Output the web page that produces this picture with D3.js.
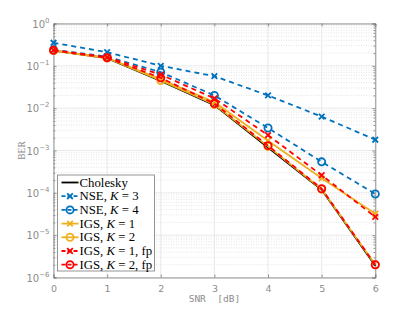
<!DOCTYPE html>
<html>
<head>
<meta charset="utf-8">
<script src="https://cdn.jsdelivr.net/npm/d3@7"></script>
<style>
  body { margin: 0; background: #fff; }
</style>
</head>
<body>
<div id="container"></div>
<script>
// data
const snr = [0, 1, 2, 3, 4, 5, 6];
const cholesky = [0.23, 0.152, 0.044, 0.0118, 0.00118, 0.000118, 0.0000019];
const nseK3 = [0.35, 0.21, 0.10, 0.057, 0.020, 0.0063, 0.0018];
const nseK4 = [0.24, 0.165, 0.071, 0.020, 0.0034, 0.00054, 0.000094];
const igsK1 = [0.23, 0.155, 0.048, 0.014, 0.0017, 0.00022, 0.000032];
const igsK2 = [0.23, 0.153, 0.045, 0.0122, 0.00125, 0.000122, 0.000002];
const igsK1fp = [0.235, 0.16, 0.062, 0.017, 0.0023, 0.00026, 0.000027];
const igsK2fp = [0.232, 0.155, 0.052, 0.0128, 0.0013, 0.000125, 0.000002];

const xTicks = [0, 1, 2, 3, 4, 5, 6];
const yExps = [0, -1, -2, -3, -4, -5, -6];

const series = [
    {name: "Cholesky", vals: cholesky, color: "#000000", dash: null, marker: null},
    {name: "NSE, ", k: "3", vals: nseK3, color: "#0072BD", dash: "5,4", marker: "x"},
    {name: "NSE, ", k: "4", vals: nseK4, color: "#0072BD", dash: "5,4", marker: "o"},
    {name: "IGS, ", k: "1", vals: igsK1, color: "#EDB120", dash: null, marker: "x"},
    {name: "IGS, ", k: "2", vals: igsK2, color: "#EDB120", dash: null, marker: "o"},
    {name: "IGS, ", k: "1", fp: true, vals: igsK1fp, color: "#FF0000", dash: "5,4", marker: "x"},
    {name: "IGS, ", k: "2", fp: true, vals: igsK2fp, color: "#FF0000", dash: "5,4", marker: "o"}
];

const width = 415, height = 312;
const mLeft = 53.5, mRight = 375.3, mTop = 23.5, mBottom = 277.5;

const svg = d3.select("#container").append("svg")
    .attr("width", width)
    .attr("height", height);

const x = d3.scaleLinear().domain([0, 6]).range([mLeft, mRight]);
const y = d3.scaleLog().domain([1e-6, 1]).range([mBottom, mTop]);

// grid
let minors = [];
for (let e = -6; e < 0; e++) {
    for (let m = 2; m <= 9; m++) minors.push(m * Math.pow(10, e));
}
svg.append("g").selectAll("line").data(minors).join("line")
    .attr("x1", mLeft).attr("x2", mRight)
    .attr("y1", d => y(d)).attr("y2", d => y(d))
    .attr("stroke", "#d4d4d4").attr("stroke-width", 0.6)
    .attr("stroke-dasharray", "1,1.5");

svg.append("g").selectAll("line").data(yExps).join("line")
    .attr("x1", mLeft).attr("x2", mRight)
    .attr("y1", d => y(Math.pow(10, d))).attr("y2", d => y(Math.pow(10, d)))
    .attr("stroke", "#e3e3e3").attr("stroke-width", 0.8);

svg.append("g").selectAll("line").data(xTicks).join("line")
    .attr("x1", d => x(d)).attr("x2", d => x(d))
    .attr("y1", mTop).attr("y2", mBottom)
    .attr("stroke", "#e3e3e3").attr("stroke-width", 0.8);

// axes with inward ticks
const axisColor = "#7a7a7a";
const axB = svg.append("g").attr("transform", `translate(0,${mBottom})`)
    .call(d3.axisBottom(x).tickValues(xTicks).tickSize(-3).tickPadding(8).tickFormat(d3.format("d")));
svg.append("g").attr("transform", `translate(0,${mTop})`)
    .call(d3.axisTop(x).tickValues(xTicks).tickSize(-3).tickFormat(""));
const yTickVals = yExps.map(e => Math.pow(10, e));
svg.append("g").attr("transform", `translate(${mLeft},0)`)
    .call(d3.axisLeft(y).tickValues(yTickVals).tickSize(-3).tickFormat(""));
svg.append("g").attr("transform", `translate(${mRight},0)`)
    .call(d3.axisRight(y).tickValues(yTickVals).tickSize(-3).tickFormat(""));
svg.append("g").attr("transform", `translate(${mLeft},0)`)
    .call(d3.axisLeft(y).tickValues(minors).tickSize(-1.8).tickFormat(""))
    .call(g => g.select(".domain").remove());
svg.append("g").attr("transform", `translate(${mRight},0)`)
    .call(d3.axisRight(y).tickValues(minors).tickSize(-1.8).tickFormat(""))
    .call(g => g.select(".domain").remove());

svg.selectAll(".domain, .tick line").attr("stroke", axisColor).attr("stroke-width", 0.8);
axB.selectAll("text").attr("fill", "#8c8c8c").attr("font-size", 9.5).attr("font-family", "DejaVu Sans");

// y tick labels 10^k
const yl = svg.append("g").selectAll("text").data(yExps).join("text")
    .attr("x", mLeft - 4)
    .attr("y", d => y(Math.pow(10, d)) + 4)
    .attr("text-anchor", "end")
    .attr("fill", "#8c8c8c")
    .attr("font-family", "DejaVu Sans")
    .attr("font-size", 10);
yl.append("tspan").text("10");
yl.append("tspan").attr("dy", -5).attr("font-size", 7).text(d => d === 0 ? "0" : "\u2212" + (-d));

// axis titles
svg.append("text")
    .attr("x", (mLeft + mRight) / 2).attr("y", 302)
    .attr("text-anchor", "middle").attr("fill", "#8c8c8c")
    .attr("font-size", 9.5).attr("font-family", "DejaVu Sans Mono")
    .attr("xml:space", "preserve")
    .text("SNR  [dB]");
svg.append("text")
    .attr("transform", `translate(25,${(mTop + mBottom) / 2}) rotate(-90)`)
    .attr("text-anchor", "middle").attr("fill", "#8c8c8c")
    .attr("font-size", 9.5).attr("font-family", "Liberation Serif, serif")
    .text("BER");

// lines and markers
const line = d3.line().x((d, i) => x(snr[i])).y(d => y(d));

function drawMarker(g, type, color, cx, cy) {
    if (type === "o") {
        g.append("circle").attr("cx", cx).attr("cy", cy).attr("r", 3.6)
            .attr("fill", "none").attr("stroke", color).attr("stroke-width", 1.8);
    } else if (type === "x") {
        const s = 2.8;
        g.append("path")
            .attr("d", `M${cx - s},${cy - s}L${cx + s},${cy + s}M${cx - s},${cy + s}L${cx + s},${cy - s}`)
            .attr("stroke", color).attr("stroke-width", 1.8);
    }
}

const plot = svg.append("g");
series.forEach(s => {
    const g = plot.append("g");
    g.append("path")
        .attr("d", line(s.vals))
        .attr("fill", "none")
        .attr("stroke", s.color)
        .attr("stroke-width", 1.8)
        .attr("stroke-dasharray", s.dash);
    s.vals.forEach((v, i) => drawMarker(g, s.marker, s.color, x(snr[i]), y(v)));
});

// legend
const lx = 57.5, ly = 175, lw = 97, lh = 96, rowH = 13.7;
const leg = svg.append("g");
leg.append("rect").attr("x", lx).attr("y", ly).attr("width", lw).attr("height", lh)
    .attr("fill", "#fff").attr("stroke", "#7a7a7a").attr("stroke-width", 0.8);
series.forEach((s, i) => {
    const cy = ly + 7.5 + i * rowH;
    leg.append("line").attr("x1", lx + 4).attr("x2", lx + 21).attr("y1", cy).attr("y2", cy)
        .attr("stroke", s.color).attr("stroke-width", 1.8)
        .attr("stroke-dasharray", s.dash ? "4,2" : null);
    drawMarker(leg, s.marker, s.color, lx + 12.5, cy);
    const t = leg.append("text").attr("x", lx + 22).attr("y", cy + 4)
        .attr("font-family", "Liberation Serif, serif").attr("font-size", 12.8).attr("fill", "#000");
    t.append("tspan").text(s.name);
    if (s.k) {
        t.append("tspan").attr("font-style", "italic").text("K");
        t.append("tspan").text(" = " + s.k + (s.fp ? ", fp" : ""));
    }
});
</script>
</body>
</html>
